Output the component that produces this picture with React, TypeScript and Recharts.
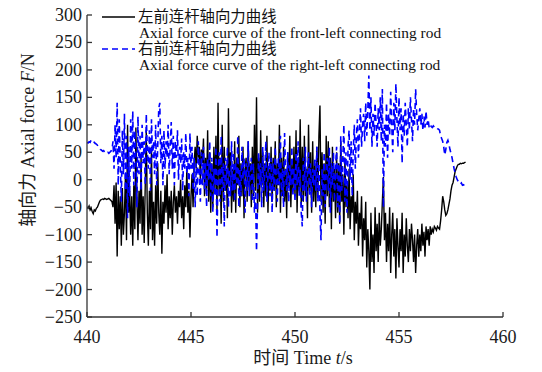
import React from "react";
import { LineChart, Line, XAxis, YAxis, Label } from "recharts";

// sampling grid of the recording: 440.00 s, every 0.05 s
const tStart = 440;
const tStep = 0.05;

// front-left rod axial force (N)
const leftForce = [
  -50, -52, -48, -55, -52, -58, -62, -55, -57, -52, -50, -45, -40, -37, -36, -35, -36, -34, -35, -36,
  -35, -34, -36, -38, -40, -50, -10, -80, -5, -140, -20, -90, -30, -120, -15, -100, -60, 10, -110, 100,
  -60, -20, -100, -30, -120, -10, -90, 95, -40, -110, -20, -80, 40, -100, -30, -115, -10, 90, -60, -120,
  -20, -90, 60, -110, -40, -120, -10, -80, 30, -60, -100, -20, -135, -40, -80, -10, -60, 10, -90, -30,
  -70, -20, -100, -40, -10, -60, -30, -80, -20, -50, 0, -70, -30, -90, -10, -50, 20, -60, -20, -105,
  -30, 10, -50, 30, 60, 20, 80, 40, 60, 0, 55, 30, 75, -30, 40, -20, 90, -40, 50, -60,
  30, -50, 60, -20, 80, -60, 140, -30, 40, -80, 100, -40, 60, -20, 20, -70, 130, -10, 50, -60,
  20, -40, 70, -60, 40, -10, 80, -50, 30, -30, 60, -70, 20, 40, -40, 70, -20, 30, -50, 60,
  -30, 100, -20, 150, -60, 40, -40, 90, -10, 50, -50, 30, -30, 80, -60, 20, -20, 60, -40, 40,
  -20, 70, -50, 30, -10, 100, -60, 40, -30, 60, -40, 20, -70, 50, -10, 80, -50, 30, -20, 60,
  -30, 90, -60, 40, -20, 110, -50, 60, -40, 80, -30, 20, -70, 100, -20, 50, -60, 70, -40, 30,
  -50, 60, -30, 80, 135, -40, 50, -60, 30, -80, 80, -30, 70, -50, 40, -90, 60, -40, 20, -70,
  50, -60, 30, -80, 70, -40, 10, -100, 40, -50, -10, -70, 20, -90, -30, -60, 10, -110, -40, -80,
  -20, -120, -60, -90, -30, -140, -70, -110, -40, -160, -90, -130, -200, -60, -150, -100, -170, -50, -130, -80,
  -150, -60, -120, -90, -40, 5, -110, -60, -150, -80, -130, -50, -170, -100, -60, -140, -90, -180, -70, -120,
  -160, -90, -130, -60, -170, -100, -140, -70, -120, -150, -90, -130, -80, -110, -150, -100, -170, -120, -90, -140,
  -100, -130, -80, -120, -95, -140, -85, -110, -90, -120, -85, -100, -90, -95, -85, -88, -92, -85, -88, -90,
  -75, -55, -30, -40, -55, -65, -62, -55, -45, -35, -20, -10, -5, 5, 15, 20, 25, 28, 28, 30,
  29, 30, 30, 31, 32,
];

// right-front rod axial force (N)
const rightForce = [
  68, 67, 69, 68, 72, 70, 71, 68, 66, 65, 63, 60, 58, 55, 54, 52, 53, 50, 51, 49,
  50, 48, 50, 52, 55, 70, 20, 100, 40, 140, -10, 110, 30, -40, 90, 10, 120, -20, 80, -70,
  60, -30, 110, 20, 125, -10, 90, 40, -50, 115, 10, 80, -20, 100, 30, 70, -10, 120, 50, 20,
  90, -20, 110, 40, 70, 10, 100, -10, 60, 130, 140, 30, 80, -10, 90, 20, 70, 40, 100, 10,
  60, 105, 20, 80, -10, 70, 40, 90, 0, 60, 30, 75, -20, 50, 20, 85, 10, 40, -30, 85,
  20, 60, -20, 40, -50, 30, -30, 70, 10, -40, 50, -10, 60, -20, 30, -50, 40, 0, 70, -30,
  40, -60, 20, -30, 60, -105, 10, 50, -40, 80, -20, 30, -85, 40, -10, 60, -50, 20, -30, 70,
  -20, 50, -40, 30, -10, 80, -50, 20, -30, 60, 0, 40, -60, 30, -20, 70, -30, 10, 40, -40,
  30, -60, -20, -130, -40, 50, -10, 30, -50, 60, -20, 20, 70, -40, 10, 50, -30, 40, -60, 30,
  -20, 60, 0, -40, 40, -10, 80, -30, 20, -50, 85, 10, -20, 50, -40, 30, -10, 60, -30, 20,
  -40, 50, -10, 70, -30, 20, -60, -85, 40, -20, 60, -40, 10, 50, -30, 30, -50, 20, -10, 40,
  -20, 60, -40, 30, -60, -110, 20, -30, 50, -50, 10, 40, -20, 60, -60, 30, -10, 50, -40, 20,
  60, -50, 30, -80, 80, -20, 40, 100, -40, 50, -60, 60, 90, 0, 70, -30, 50, 100, 20, 80,
  110, 40, 90, 130, 60, 100, 120, 70, 140, 80, 125, 190, 90, 150, 60, 120, 80, 140, 100, 60,
  130, 90, 150, 70, 165, -50, 100, 60, 140, 40, 120, 80, 160, 100, 50, 140, 90, 175, 110, 60,
  150, 90, 130, 30, 120, 80, 140, 100, 60, 130, 90, 150, 110, 70, 130, 100, 165, 120, 90, 110,
  130, 100, 120, 90, 115, 95, 125, 100, 110, 95, 100, 97, 95, 98, 96, 94, 95, 93, 92, 90,
  80, 75, 70, 60, 45, 55, 68, 72, 65, 55, 48, 40, 30, 20, 12, 5, 0, -3, -5, -8,
  -6, -10, -9, -11, -12,
];

const xTicks = [440, 445, 450, 455, 460];
const yTicks = [-250, -200, -150, -100, -50, 0, 50, 100, 150, 200, 250, 300];

const legendRows = [
  { zh: "左前连杆轴向力曲线", en: "Axial force curve of the front-left connecting rod", color: "#000", dash: undefined },
  { zh: "右前连杆轴向力曲线", en: "Axial force curve of the right-left connecting rod", color: "#0000ff", dash: "6 4" },
];

const data = leftForce.map((v, i) => ({
  t: +(tStart + i * tStep).toFixed(2),
  left: v,
  right: rightForce[i],
}));

const font = '"Liberation Serif", "Times New Roman", "Noto Sans CJK SC", serif';
const ink = "#1a1a1a";

const fmt = (v: number) => (v < 0 ? "\u2212" + Math.abs(v) : String(v));

function XTick(p: any) {
  return (
    <text x={p.x} y={p.y} dy={17} textAnchor="middle" fontFamily={font} fontSize={18} fill={ink}>
      {p.payload.value}
    </text>
  );
}

function YTick(p: any) {
  return (
    <text x={p.x} y={p.y} dy={6} textAnchor="end" fontFamily={font} fontSize={18} fill={ink}>
      {fmt(p.payload.value)}
    </text>
  );
}

function LegendBox() {
  return (
    <div
      style={{
        position: "absolute",
        left: 101,
        top: 9,
        fontFamily: font,
        fontSize: 15.4,
        lineHeight: "16px",
        color: "#111",
        whiteSpace: "nowrap",
      }}
    >
      {legendRows.map((r) => (
        <div key={r.zh}>
          <div style={{ display: "flex", alignItems: "center" }}>
            <svg width={37} height={16} style={{ display: "block" }}>
              <line x1={1} y1={8} x2={34} y2={8} stroke={r.color} strokeWidth={1.6} strokeDasharray={r.dash} />
            </svg>
            <span>{r.zh}</span>
          </div>
          <div style={{ paddingLeft: 38 }}>{r.en}</div>
        </div>
      ))}
    </div>
  );
}

export default function App() {
  return (
    <div style={{ position: "absolute", left: 0, top: 0, width: 542, height: 372, background: "#fff" }}>
      <LineChart width={542} height={372} data={data} margin={{ top: 15, right: 39, bottom: 25, left: 27 }}>
        <XAxis
          dataKey="t"
          type="number"
          domain={[440, 460]}
          ticks={xTicks}
          height={30}
          tickSize={-5}
          tickMargin={14}
          axisLine={{ stroke: "#333", strokeWidth: 1.3 }}
          tickLine={{ stroke: "#333", strokeWidth: 1.3 }}
          tick={<XTick />}
          interval={0}
          allowDataOverflow
        >
          <Label
            content={() => (
              <text x={303} y={364} textAnchor="middle" fontFamily={font} fontSize={18} fill={ink}>
                时间 Time <tspan fontStyle="italic">t</tspan>/s
              </text>
            )}
          />
        </XAxis>
        <YAxis
          type="number"
          domain={[-250, 300]}
          ticks={yTicks}
          width={60}
          tickSize={-5}
          tickMargin={10}
          interval={0}
          axisLine={{ stroke: "#333", strokeWidth: 1.3 }}
          tickLine={{ stroke: "#333", strokeWidth: 1.3 }}
          tick={<YTick />}
          allowDataOverflow
        >
          <Label
            content={() => (
              <text
                x={30}
                y={140}
                transform="rotate(-90 30 140)"
                textAnchor="middle"
                dominantBaseline="middle"
                fontFamily={font}
                fontSize={18}
                fill={ink}
              >
                轴向力 Axial force <tspan fontStyle="italic">F</tspan>/N
              </text>
            )}
          />
        </YAxis>
        <Line dataKey="left" stroke="#000" strokeWidth={1.4} dot={false} isAnimationActive={false} />
        <Line
          dataKey="right"
          stroke="#0000ff"
          strokeWidth={1.6}
          strokeDasharray="6 4"
          dot={false}
          isAnimationActive={false}
        />
      </LineChart>
      <LegendBox />
    </div>
  );
}
